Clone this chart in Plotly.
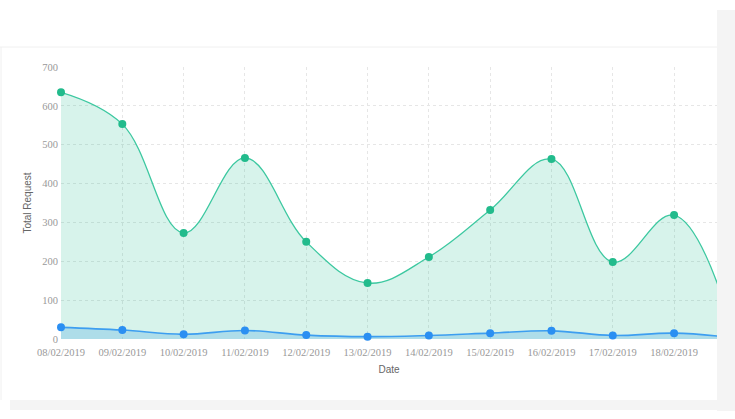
import plotly.graph_objects as go

dates = ["08/02/2019", "09/02/2019", "10/02/2019", "11/02/2019", "12/02/2019",
         "13/02/2019", "14/02/2019", "15/02/2019", "16/02/2019", "17/02/2019",
         "18/02/2019", "19/02/2019"]
total_requests = [635, 553, 273, 466, 250, 144, 211, 332, 463, 198, 319, 0]
other_requests = [30, 23, 12, 22, 10, 6, 9, 15, 21, 9, 15, 3]
y_ticks = [0, 100, 200, 300, 400, 500, 600, 700]

W, H = 735, 419
L, R, T, B = 61, 18, 67, 80
pw, ph = W - L - R, H - T - B

def px_x(p):
    return (p - L) / pw

def px_y(p):
    return (H - B - p) / ph

fig = go.Figure()
fig.add_trace(go.Scatter(
    x=dates, y=total_requests, mode="lines+markers",
    line=dict(color="#3cc8a0", width=1.3, shape="spline", smoothing=1.1),
    marker=dict(color="#22bb8c", size=8),
    fill="tozeroy", fillcolor="rgba(40,190,150,0.19)",
    cliponaxis=False, hoverinfo="skip"))
fig.add_trace(go.Scatter(
    x=dates, y=other_requests, mode="lines+markers",
    line=dict(color="#3d9ef0", width=1.6, shape="spline", smoothing=1.1),
    marker=dict(color="#2b8ff2", size=8),
    fill="tozeroy", fillcolor="rgba(90,175,230,0.33)",
    cliponaxis=False, hoverinfo="skip"))

shapes = [
    # right shadow
    dict(type="rect", xref="paper", yref="paper", x0=px_x(717), x1=px_x(736),
         y0=px_y(411), y1=px_y(10), fillcolor="#f4f4f4", line_width=0, layer="above"),
    # bottom shadow
    dict(type="rect", xref="paper", yref="paper", x0=px_x(10), x1=px_x(717),
         y0=px_y(410), y1=px_y(400), fillcolor="#f4f4f4", line_width=0, layer="above"),
    # header separator
    dict(type="line", xref="paper", yref="paper", x0=px_x(0), x1=px_x(717),
         y0=px_y(47), y1=px_y(47), line=dict(color="#f0f0f0", width=1), layer="above"),
    # left card border
    dict(type="line", xref="paper", yref="paper", x0=px_x(1), x1=px_x(1),
         y0=px_y(47), y1=px_y(400), line=dict(color="#f0f0f0", width=1), layer="above"),
]

fig.update_layout(
    width=W, height=H,
    margin=dict(l=L, r=R, t=T, b=B),
    paper_bgcolor="white", plot_bgcolor="white",
    showlegend=False, shapes=shapes,
    xaxis=dict(type="category", range=[0, 10.70], showgrid=True,
               gridcolor="#e6e6e6", griddash="3px,3px", zeroline=False,
               showline=False, ticks="", ticklabelstandoff=5,
               tickfont=dict(family="Liberation Serif", size=10.5, color="#999999"),
               title=dict(text="Date", font=dict(family="Liberation Sans", size=10, color="#666666"),
                          standoff=9)),
    yaxis=dict(range=[0, 700], tickvals=y_ticks, showgrid=True,
               gridcolor="#e6e6e6", griddash="3px,3px", zeroline=False,
               showline=False, ticks="", ticklabelstandoff=2,
               tickfont=dict(family="Liberation Serif", size=10.5, color="#999999"),
               title=dict(text="Total Request", font=dict(family="Liberation Sans", size=10, color="#666666"),
                          standoff=8)),
)

fig.write_html("out.html")
